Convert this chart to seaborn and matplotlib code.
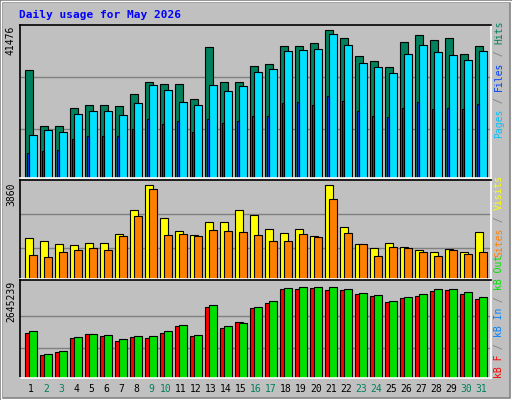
import numpy as np
import pandas as pd
import matplotlib
matplotlib.use("Agg")
import matplotlib.pyplot as plt
import seaborn as sns
from matplotlib.patches import Rectangle

sns.set_theme(style="white")
plt.rcParams['font.family'] = ['DejaVu Sans Mono']

# ---------------- data ----------------
days = list(range(1, 32))
weekend = [2, 3, 9, 10, 16, 17, 23, 24, 30, 31]
hits = [30163, 14611, 14611, 19700, 20549, 20549, 20266, 23660, 27053, 26487, 26487,
        22245, 36667, 27053, 27053, 31294, 31860, 36950, 36950, 37798, 41476, 39212,
        34122, 32708, 31011, 38081, 40060, 38647, 39212, 34688, 36950]
files = [12065, 13479, 12914, 18004, 18852, 18852, 17721, 21114, 26204, 24790, 21397,
         20549, 26204, 24508, 25922, 29880, 30446, 35536, 35819, 36101, 40343, 37233,
         32143, 31011, 29598, 34688, 37233, 35253, 34405, 32991, 35536]
pages = [6975, 7541, 7824, 10934, 11783, 11783, 11783, 13762, 16590, 15176, 16024,
         12914, 16590, 15459, 16024, 17438, 17438, 21114, 21397, 20549, 23094, 21680,
         18852, 17438, 17155, 19700, 21397, 19418, 19700, 19418, 20832]
visits = [1678, 1552, 1426, 1385, 1468, 1468, 1846, 2811, 3860, 2517, 1972, 1804, 2349,
          2349, 2811, 2601, 2056, 1888, 2056, 1762, 3860, 2140, 1426, 1259, 1468, 1301,
          1175, 1091, 1217, 1091, 1930]
sites = [965, 881, 1091, 1175, 1259, 1175, 1762, 2559, 3692, 1804, 1846, 1762, 2014,
         1972, 1930, 1804, 1552, 1552, 1846, 1720, 3273, 1888, 1426, 923, 1301, 1259,
         1091, 923, 1175, 1007, 1091]
kb_f = [1308000, 669000, 756000, 1163000, 1279000, 1221000, 1076000, 1192000, 1163000,
        1308000, 1512000, 1221000, 2064000, 1453000, 1628000, 2035000, 2180000, 2587000,
        2587000, 2616000, 2558000, 2558000, 2442000, 2384000, 2209000, 2326000, 2384000,
        2529000, 2558000, 2442000, 2297000]
kb_out = [1366000, 698000, 785000, 1192000, 1279000, 1250000, 1134000, 1221000, 1221000,
          1366000, 1541000, 1250000, 2122000, 1512000, 1599000, 2064000, 2238000, 2616000,
          2645239, 2645239, 2645239, 2587000, 2471000, 2413000, 2238000, 2355000, 2442000,
          2587000, 2587000, 2500000, 2355000]

BG = "#c0c0c0"
W, H = 512, 400
fig = plt.figure(figsize=(5.12, 4.0), dpi=100, facecolor=BG)

# outer bevel
fig.patches.append(Rectangle((0, 0), 1, 1, transform=fig.transFigure, fill=False,
                             edgecolor="#808080", linewidth=4))
fig.patches.append(Rectangle((0.002, 0.002), 0.996, 0.996, transform=fig.transFigure,
                             fill=False, edgecolor="#ffffff", linewidth=1))


def make_ax(top, bottom):
    ax = fig.add_axes([20 / W, 1 - bottom / H, 471 / W, (bottom - top) / H])
    ax.set_facecolor(BG)
    for s in ['left', 'top']:
        ax.spines[s].set_color("black")
    for s in ['right', 'bottom']:
        ax.spines[s].set_color("white")
    for s in ax.spines.values():
        s.set_linewidth(1.2)
    ax.set_xlim(0.647, 32.05)
    ax.set_xticks([])
    ax.set_yticks([])
    return ax


def bars(ax, vals, color, shift, width):
    df = pd.DataFrame({"x": np.array(days) + shift + width / 2, "y": vals})
    sns.barplot(data=df, x="x", y="y", native_scale=True, width=width, color=color,
                edgecolor="black", linewidth=0.8, saturation=1, ax=ax)
    ax.set_xlabel("")
    ax.set_ylabel("")


def grid(ax, vmax, frac):
    for f in (0.33, 0.685):
        ax.axhline(vmax * f, color="#808080", linewidth=1, zorder=0)
    ax.set_ylim(0, vmax * frac)


# top panel
ax1 = make_ax(25, 178)
grid(ax1, max(hits), 1.035)
bars(ax1, hits, "#00805c", 0, 0.49)
bars(ax1, files, "#00e0ff", 0.27, 0.49)
bars(ax1, pages, "#0040ff", 0.09, 0.18)
ax1.set_xlim(0.647, 32.05)

# middle panel
ax2 = make_ax(180, 279)
grid(ax2, max(visits), 1.05)
bars(ax2, visits, "#ffff00", 0, 0.49)
bars(ax2, sites, "#ff8000", 0.27, 0.49)
ax2.set_xlim(0.647, 32.05)

# bottom panel
ax3 = make_ax(280, 378)
grid(ax3, max(kb_out), 1.08)
bars(ax3, kb_f, "#ff0000", 0, 0.49)
bars(ax3, kb_out, "#00e000", 0.27, 0.49)
ax3.set_xlim(0.647, 32.05)

# title
fig.text(19 / W, 1 - 15 / H, "Daily usage for May 2026", color="#0000ff",
         fontsize=8, fontweight="bold", va="center", ha="left")

# max labels on the left
for txt, ytop in [("41476", 26), ("3860", 182), ("2645239", 281)]:
    fig.text(16 / W, 1 - ytop / H, txt, rotation=90, fontsize=7, va="top", ha="right",
             color="black")

# right side coloured labels
FS = 7
CH = 0.602 * FS * 100 / 72


def right_label(parts, ybottom):
    y = ybottom
    for txt, col in parts:
        fig.text(499 / W, 1 - y / H, txt, rotation=90, fontsize=FS, color=col,
                 va="bottom", ha="center")
        y -= len(txt) * CH


right_label([("Pages", "#00c0ff"), (" / ", "#808080"), ("Files", "#0040ff"),
             (" / ", "#808080"), ("Hits", "#00805c")], 138)
right_label([("Sites", "#ff8000"), (" / ", "#808080"), ("Visits", "#ffff00")], 257)
right_label([("kB F", "#ff0000"), (" / ", "#808080"), ("kB In", "#0080ff"),
             (" / ", "#808080"), ("kB Out", "#00e000")], 378)

# day labels
for d in days:
    xc = 20 + (d + 0.38 - 0.647) * 15
    fig.text(xc / W, 1 - 389 / H, str(d), fontsize=7, ha="center", va="center",
             color="#00805c" if d in weekend else "black")

fig.savefig("out.png", dpi=100, facecolor=BG)
